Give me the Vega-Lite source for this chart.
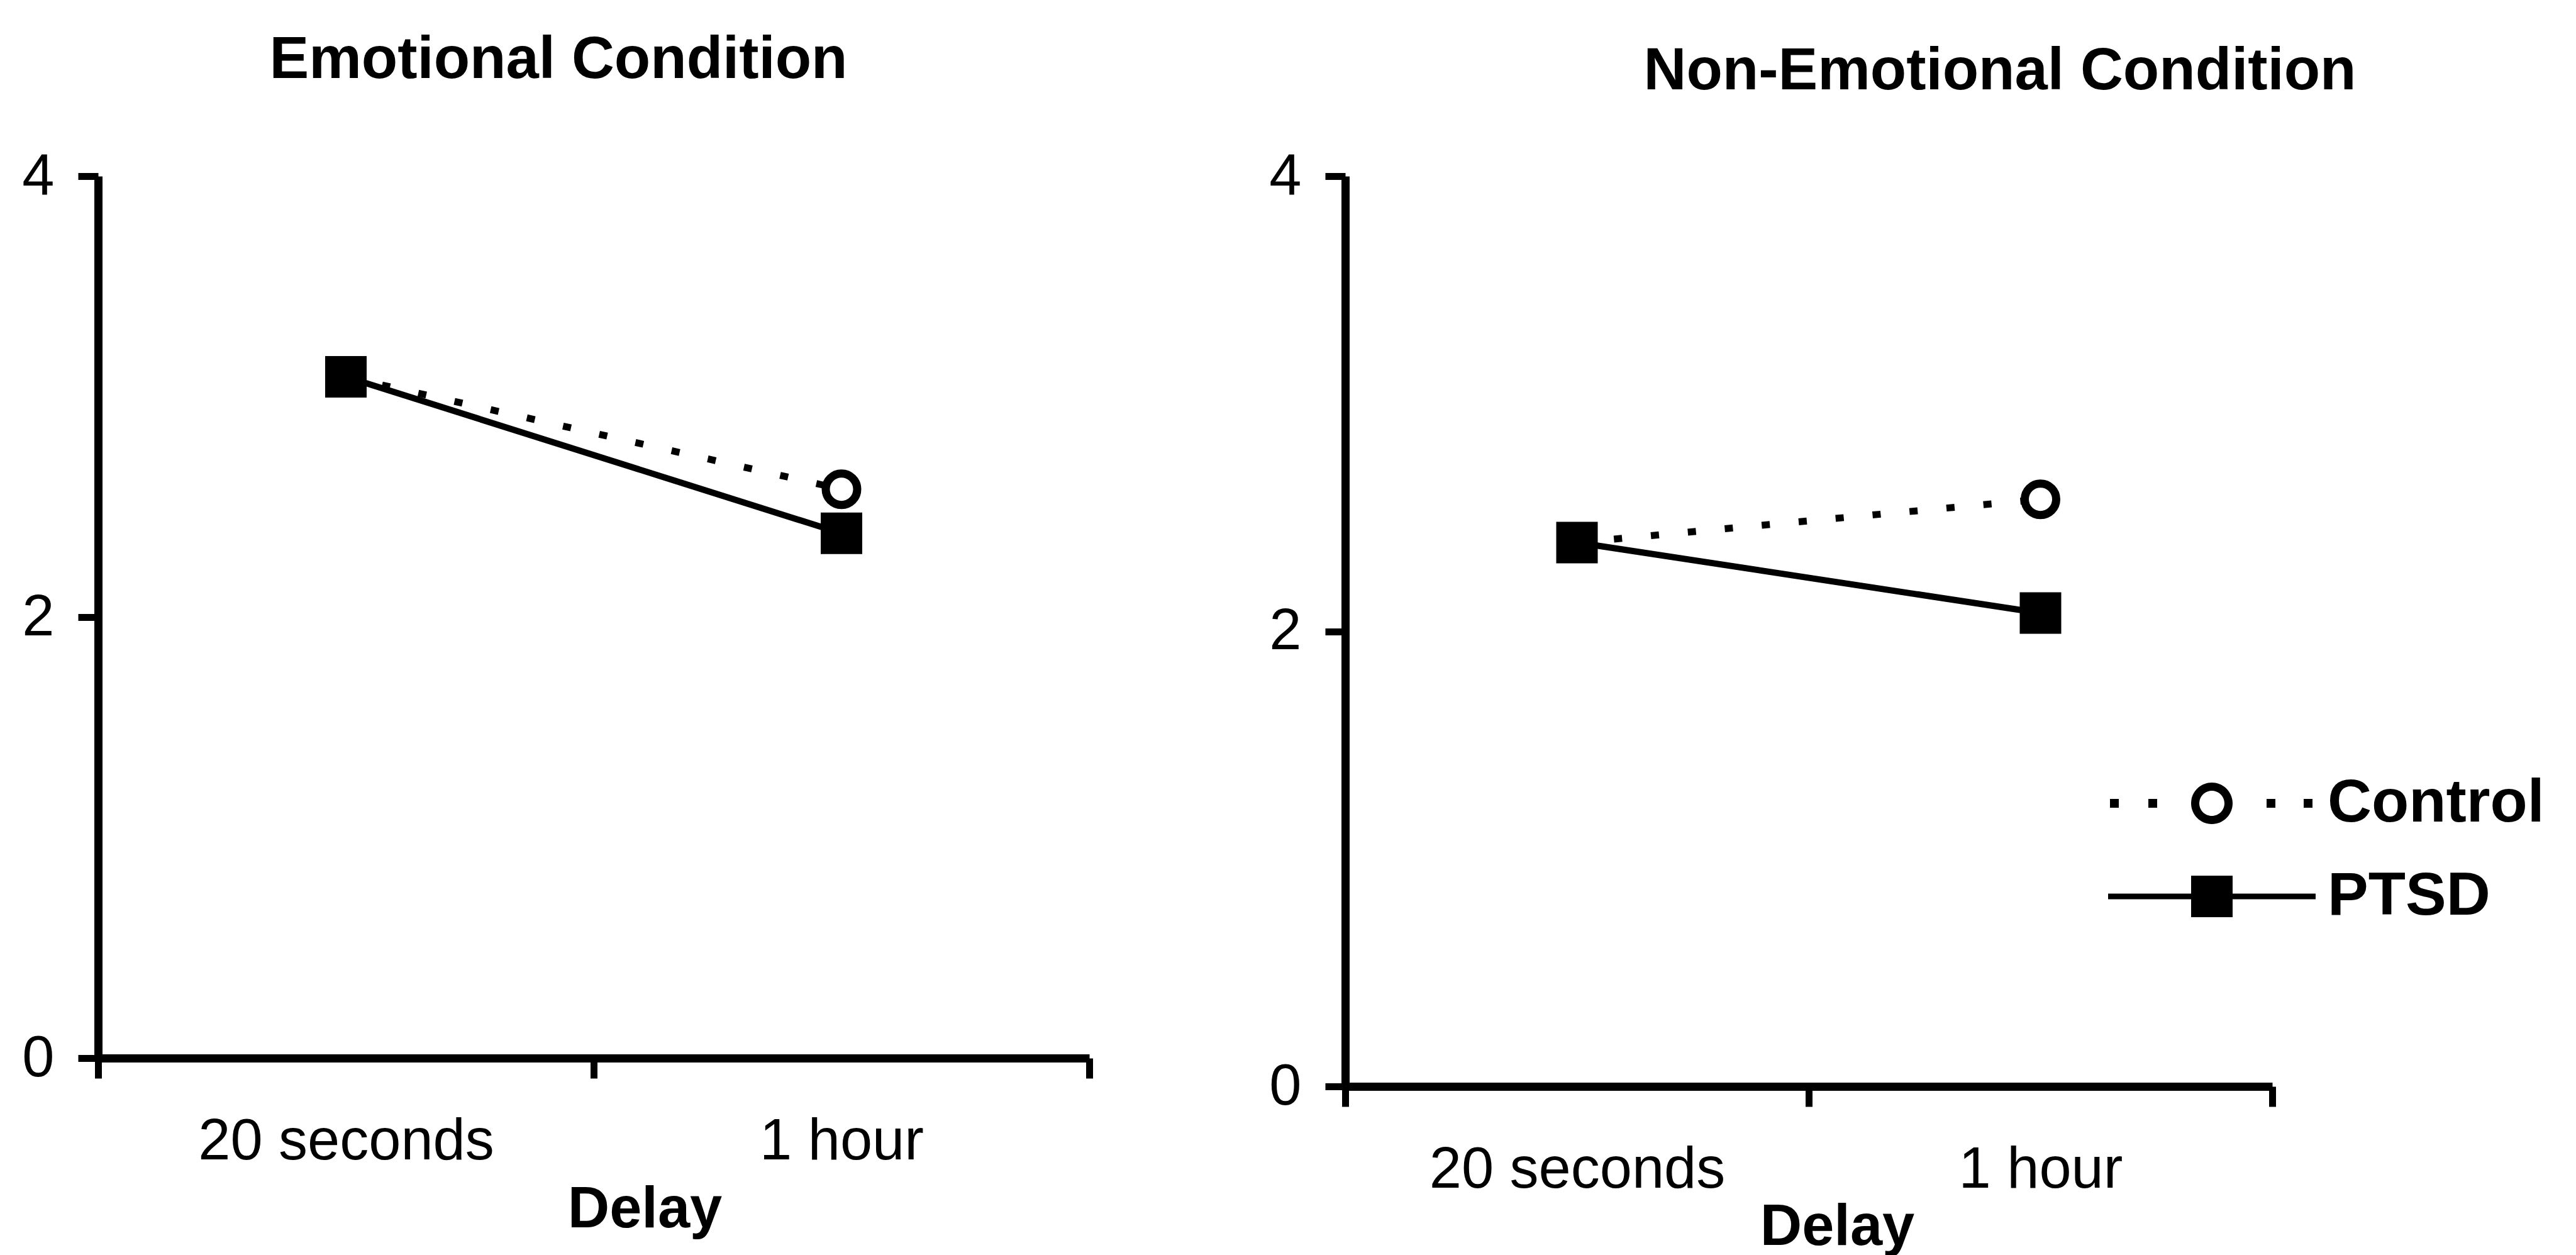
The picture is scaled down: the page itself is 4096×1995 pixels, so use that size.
{
  "$schema": "https://vega.github.io/schema/vega-lite/v6.json",
  "padding": {"left": 34, "top": 49, "right": 39, "bottom": 5},
  "autosize": {"type": "pad"},
  "background": "white",
  "bounds": "flush",
  "spacing": 407,
  "datasets": {
    "emotional": [
      {"delay": "20 seconds", "group": "Control", "value": 3.09},
      {"delay": "1 hour", "group": "Control", "value": 2.58},
      {"delay": "20 seconds", "group": "PTSD", "value": 3.09},
      {"delay": "1 hour", "group": "PTSD", "value": 2.38}
    ],
    "nonemotional": [
      {"delay": "20 seconds", "group": "Control", "value": 2.39},
      {"delay": "1 hour", "group": "Control", "value": 2.58},
      {"delay": "20 seconds", "group": "PTSD", "value": 2.39},
      {"delay": "1 hour", "group": "PTSD", "value": 2.08}
    ]
  },
  "config": {
    "view": {"stroke": null},
    "font": "Liberation Sans",
    "axis": {
      "grid": false,
      "domainColor": "black",
      "tickColor": "black",
      "labelColor": "black",
      "titleColor": "black",
      "domainWidth": 13,
      "tickWidth": 11,
      "tickSize": 32,
      "labelFontSize": 92,
      "labelLimit": 0,
      "labelFont": "Liberation Sans",
      "titleFont": "Liberation Sans",
      "titleFontSize": 92,
      "titleFontWeight": "bold"
    },
    "title": {
      "font": "Liberation Sans",
      "fontSize": 94,
      "fontWeight": "bold",
      "color": "black",
      "frame": "group",
      "anchor": "middle",
      "baseline": "alphabetic"
    }
  },
  "resolve": {"scale": {"shape": "independent"}, "legend": {"shape": "independent"}},
  "hconcat": [
    {
      "width": 1576,
      "height": 1402,
      "title": {"text": "Emotional Condition", "dx": -56, "offset": 90},
      "data": {"name": "emotional"},
      "encoding": {
        "x": {
          "field": "delay", "type": "nominal", "sort": ["20 seconds", "1 hour"],
          "scale": {"type": "band", "paddingInner": 0, "paddingOuter": 0},
          "axis": {"labelAngle": 0, "tickBand": "extent", "labelPadding": 55, "title": "Delay", "titlePadding": 17, "titleX": 869}
        },
        "y": {
          "field": "value", "type": "quantitative",
          "scale": {"domain": [0, 4], "nice": false},
          "axis": {"values": [0, 2, 4], "title": null, "labelPadding": 38}
        }
      },
      "layer": [
        {"transform": [{"filter": "datum.group === 'Control'"}], "mark": {"type": "line", "color": "black", "strokeWidth": 11, "strokeDash": [13, 46], "strokeCap": "butt"}},
        {"transform": [{"filter": "datum.group === 'PTSD'"}], "mark": {"type": "line", "color": "black", "strokeWidth": 10}},
        {"transform": [{"filter": "datum.group === 'Control'"}], "mark": {"type": "point", "shape": "circle", "filled": true, "fill": "white", "stroke": "black", "strokeWidth": 13, "size": 2500, "opacity": 1}},
        {"transform": [{"filter": "datum.group === 'PTSD'"}], "mark": {"type": "point", "shape": "square", "filled": true, "fill": "black", "stroke": "black", "strokeWidth": 12, "size": 2916, "opacity": 1}}
      ]
    },
    {
      "width": 1474,
      "height": 1447,
      "title": {"text": "Non-Emotional Condition", "dx": 304, "offset": 72},
      "data": {"name": "nonemotional"},
      "encoding": {
        "x": {
          "field": "delay", "type": "nominal", "sort": ["20 seconds", "1 hour"],
          "scale": {"type": "band", "paddingInner": 0, "paddingOuter": 0},
          "axis": {"labelAngle": 0, "tickBand": "extent", "labelPadding": 55, "title": "Delay", "titlePadding": 0, "titleX": 782}
        },
        "y": {
          "field": "value", "type": "quantitative",
          "scale": {"domain": [0, 4], "nice": false},
          "axis": {"values": [0, 2, 4], "title": null, "labelPadding": 38}
        }
      },
      "layer": [
        {"transform": [{"filter": "datum.group === 'Control'"}], "mark": {"type": "line", "color": "black", "strokeWidth": 11, "strokeDash": [13, 46], "strokeCap": "butt"}},
        {"transform": [{"filter": "datum.group === 'PTSD'"}], "mark": {"type": "line", "color": "black", "strokeWidth": 10}},
        {"transform": [{"filter": "datum.group === 'Control'"}], "mark": {"type": "point", "shape": "circle", "filled": true, "fill": "white", "stroke": "black", "strokeWidth": 13, "size": 2500, "opacity": 1}},
        {"transform": [{"filter": "datum.group === 'PTSD'"}], "mark": {"type": "point", "shape": "square", "filled": true, "fill": "black", "stroke": "black", "strokeWidth": 12, "size": 2916, "opacity": 1}},
        {
          "mark": {"type": "point", "filled": true, "fill": "black", "stroke": "black", "strokeWidth": 0, "opacity": 0},
          "encoding": {
            "shape": {
              "field": "group", "type": "nominal",
              "scale": {
                "domain": ["Control", "PTSD"],
                "range": [
                  "M -3.24 -0.14 L -2.96 -0.14 L -2.96 0.14 L -3.24 0.14 Z M -2.02 -0.14 L -1.74 -0.14 L -1.74 0.14 L -2.02 0.14 Z M 1.74 -0.14 L 2.02 -0.14 L 2.02 0.14 L 1.74 0.14 Z M 2.92 -0.14 L 3.2 -0.14 L 3.2 0.14 L 2.92 0.14 Z M 0.66 0 A 0.66 0.66 0 1 1 -0.66 0 A 0.66 0.66 0 1 1 0.66 0 Z M 0.4 0 A 0.4 0.4 0 1 0 -0.4 0 A 0.4 0.4 0 1 0 0.4 0 Z",
                  "M -3.3 -0.09 L 3.3 -0.09 L 3.3 0.09 L -3.3 0.09 Z M -0.66 -0.66 L 0.66 -0.66 L 0.66 0.66 L -0.66 0.66 Z"
                ]
              },
              "legend": {
                "orient": "none", "legendX": 1328, "legendY": 947, "title": null, "padding": 0,
                "symbolSize": 10000, "symbolStrokeWidth": 0, "symbolOpacity": 1,
                "symbolFillColor": "black", "symbolStrokeColor": "black",
                "labelFontSize": 97, "labelFontWeight": "bold", "labelColor": "black", "labelFont": "Liberation Sans",
                "labelOffset": 134, "labelLimit": 0, "rowPadding": 50
              }
            }
          }
        }
      ]
    }
  ]
}
